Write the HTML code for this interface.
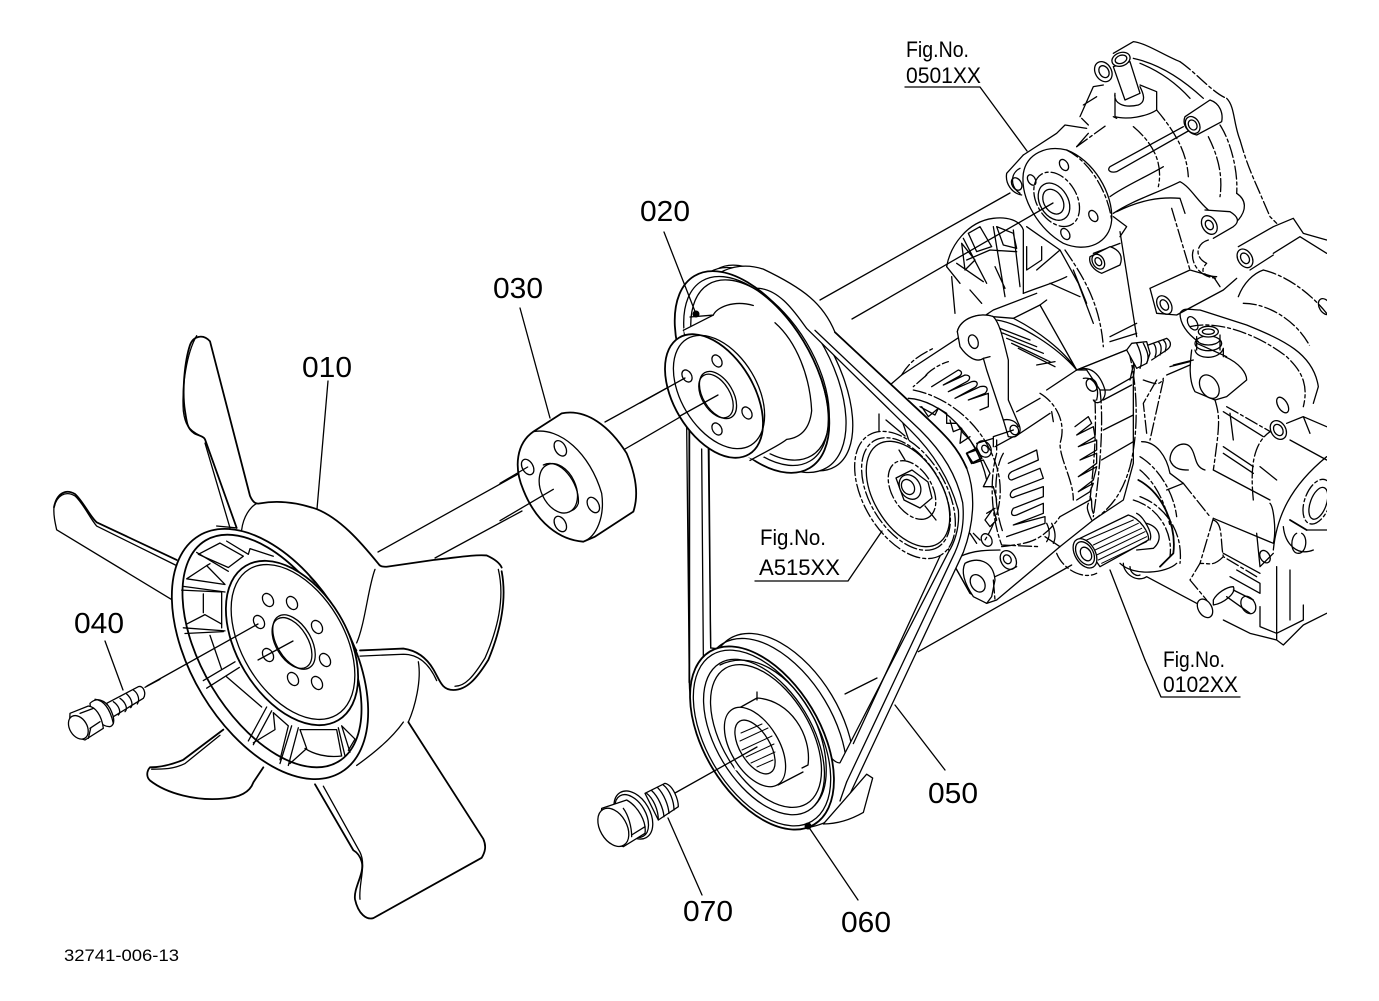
<!DOCTYPE html>
<html><head><meta charset="utf-8"><style>
html,body{margin:0;padding:0;background:#fff}
svg{display:block}
svg *{vector-effect:non-scaling-stroke}
.l path,.l line,.l ellipse,.l polyline,.l polygon{fill:none;stroke:#000;stroke-width:1.3;stroke-linejoin:round;stroke-linecap:round}
.l .w{fill:#fff}
.l .d{stroke-dasharray:13 3 3 3}
.l .t{stroke-width:1.8}
.l .n{stroke-width:1}
text{font-family:"Liberation Sans",sans-serif;fill:#000}
</style></head><body>
<svg width="1379" height="1001" viewBox="0 0 1379 1001" xmlns="http://www.w3.org/2000/svg">
<defs><clipPath id="c"><rect x="0" y="0" width="1327" height="1001"/></clipPath></defs>
<rect width="1379" height="1001" fill="#fff"/>
<g class="l" clip-path="url(#c)">

<!-- ENGINE UPPER -->
<g transform="translate(880,30) scale(.33333)">
<path class="w" d="M600,260 L640,170 L680,165 L700,70 L760,35 C800,40 850,75 900,95 C950,130 1000,190 1040,205 C1065,230 1060,280 1080,330 L1100,400 L1170,560 L1240,570 L1340,630 L1340,960 L780,960 L430,960 L220,850 L200,710 L240,600 L430,500 L430,380 L530,300 L600,300 Z" style="stroke:none"/>
<path d="M700,70 L760,35 C800,40 850,75 900,95"/>
<path class="d" d="M900,95 C950,130 1000,190 1040,205"/>
<path d="M1040,205 C1065,230 1060,280 1080,330"/>
<path class="d" d="M1080,330 C1095,380 1100,400 1140,490 L1170,560 L1190,580"/>
<path d="M760,85 C830,100 900,140 970,205"/>
<path d="M780,100 C830,120 880,150 930,205"/>
<path class="d" d="M985,320 C1010,370 1030,430 1020,500"/>
<path class="d" d="M1020,285 C1050,330 1075,420 1070,490"/>
<path d="M1070,490 C1100,510 1100,540 1075,570"/>
<ellipse class="w" cx="670" cy="125" rx="32" ry="24" transform="rotate(59 670 125)"/>
<ellipse cx="672" cy="125" rx="19" ry="14" transform="rotate(59 672 125)"/>
<path class="w" d="M700,110 L735,210 L780,190 L750,95 Z"/>
<ellipse class="w" cx="723" cy="88" rx="28" ry="20" transform="rotate(-20 723 88)"/>
<ellipse cx="723" cy="88" rx="18" ry="12" transform="rotate(-20 723 88)"/>
<path d="M705,190 C700,220 730,235 775,225 C800,215 790,190 780,170 M780,165 L830,185 L830,240 C800,260 740,270 705,260 L705,195"/>
<path d="M600,260 L640,170 L670,165 M610,225 L650,200 M605,265 L625,285"/>
<path d="M530,310 L555,285 L620,295 M430,375 L530,310"/>
<path class="d" d="M590,350 L680,285 M700,260 L710,265 M830,240 C880,300 920,360 925,440"/>
<path d="M910,290 L690,410 C680,420 690,430 710,425 L930,300"/>
<path class="d" d="M760,290 C820,340 850,400 835,470"/>
<path class="w" d="M915,260 L990,210 C1020,220 1030,250 1025,275 L950,315 C925,310 905,285 915,260 Z"/>
<ellipse class="w" cx="938" cy="285" rx="27" ry="20" transform="rotate(59 938 285)"/>
<ellipse cx="938" cy="285" rx="16" ry="12" transform="rotate(59 938 285)"/>
<path d="M700,550 C760,510 830,490 900,455 C930,470 950,510 985,540 M710,545 C780,510 840,500 900,505 L915,550"/>
<path class="d" d="M875,535 L930,720"/>
<path d="M975,540 L1050,545 C1075,560 1080,575 1060,590 L1000,625"/>
<ellipse class="w" cx="988" cy="585" rx="30" ry="21" transform="rotate(59 988 585)"/>
<ellipse cx="988" cy="585" rx="15" ry="11" transform="rotate(59 988 585)"/>
<path class="d" d="M985,630 C950,640 940,680 980,700 C960,720 965,740 1010,740 M940,660 C930,690 950,740 1010,745"/>
<path d="M810,775 L930,720 L1000,740 L1020,770"/>
<path d="M810,775 L830,850 L890,855 L1030,780 L1070,745"/>
<ellipse cx="853" cy="825" rx="30" ry="20" transform="rotate(59 853 825)"/>
<ellipse cx="853" cy="825" rx="17" ry="11" transform="rotate(59 853 825)"/>
<path d="M1075,650 L1180,590 L1240,565 L1270,610 L1340,630 M1180,670 L1260,620 L1340,670"/>
<ellipse class="w" cx="1095" cy="685" rx="30" ry="21" transform="rotate(59 1095 685)"/>
<ellipse cx="1095" cy="685" rx="17" ry="12" transform="rotate(59 1095 685)"/>
<path d="M1110,720 L1180,675 M1075,800 C1090,760 1120,730 1150,720"/>
<path class="d" d="M1090,820 C1170,820 1260,880 1295,960 M1150,720 C1230,740 1300,800 1340,850"/>
<ellipse cx="1335" cy="830" rx="26" ry="17" transform="rotate(59 1335 830)"/>
<!-- fan-shaped water pump pulley rear -->
<path d="M200,710 C210,650 260,575 340,565 C380,560 420,570 430,600 L430,790"/>
<path d="M215,740 L225,850 M200,710 L240,760 M430,790 C480,770 520,760 560,740"/>
<path d="M250,625 L320,760 M340,590 L375,800 M400,600 L420,770 M260,690 L330,660 L410,665 M230,700 L310,755 M270,780 L305,820 M345,710 L375,775 M265,610 L300,590 L335,650 L290,665 Z M350,590 L400,610 L410,655 L370,645 Z M245,640 L285,690 L255,720 Z"/>
<path d="M440,590 L540,660 L595,760 L640,880 M470,720 L540,660 M485,650 L485,690 L440,720 L440,650 M510,760 L600,800 M580,720 L620,820"/>
<path class="d" d="M555,660 C610,740 660,820 670,950"/>
<path d="M470,790 L340,840 L310,860"/>
<!-- pump flange -->
<path class="w" d="M430,430 C440,370 500,345 560,360 C640,390 700,490 695,570 C690,640 620,670 550,640 C480,600 420,510 430,430 Z"/>
<path class="d" d="M560,360 C620,390 680,470 695,570"/>
<ellipse cx="520" cy="515" rx="40" ry="28" transform="rotate(59 520 515)"/>
<ellipse cx="522" cy="515" rx="60" ry="42" transform="rotate(59 522 515)"/>
<ellipse class="d" cx="530" cy="508" rx="88" ry="60" transform="rotate(59 530 508)"/>
<ellipse cx="552" cy="405" rx="18" ry="12" transform="rotate(59 552 405)"/>
<ellipse cx="640" cy="558" rx="18" ry="12" transform="rotate(59 640 558)"/>
<ellipse cx="556" cy="612" rx="18" ry="12" transform="rotate(59 556 612)"/>
<ellipse cx="455" cy="450" rx="17" ry="11" transform="rotate(59 455 450)"/>
<path d="M430,375 L380,430 C375,460 395,490 425,495 M420,415 C390,430 390,470 420,490"/>
<ellipse cx="410" cy="462" rx="20" ry="14" transform="rotate(59 410 462)"/>
<path d="M590,350 L625,310 M690,500 C730,470 800,440 850,410"/>
<path d="M720,640 L640,670 M700,560 L740,590 L720,620"/>
<path class="w" d="M630,680 L690,650 C720,660 730,680 720,705 L665,730 C640,720 625,700 630,680 Z"/>
<ellipse cx="655" cy="695" rx="24" ry="17" transform="rotate(59 655 695)"/>
<ellipse cx="655" cy="695" rx="13" ry="9" transform="rotate(59 655 695)"/>
<path d="M720,605 L770,920 M690,920 L770,880 M690,935 L770,910"/>
</g>

<!-- ENGINE LOWER + ALTERNATOR -->
<g transform="translate(880,300) scale(.33333)">
<path class="w" d="M800,230 L900,190 L1100,160 L1340,130 L1340,940 L1270,975 L1210,1035 L1190,1020 L1110,1000 L1030,955 L950,910 L810,840 L730,790 L750,600 Z" style="stroke:none"/>
<!-- right block -->
<path d="M900,40 C910,20 930,30 960,30 L1100,75 C1210,120 1300,160 1315,260 L1300,310"/>
<path class="d" d="M930,80 C1010,60 1130,100 1220,170 C1250,200 1290,240 1270,320"/>
<path d="M900,40 C900,70 920,100 955,125 M950,130 L1040,170"/>
<ellipse cx="938" cy="70" rx="22" ry="13" transform="rotate(59 938 70)"/>
<ellipse cx="1208" cy="315" rx="26" ry="14" transform="rotate(59 1208 315)"/>
<path d="M1035,170 C1080,190 1100,220 1100,240 L1040,290 M935,150 C930,190 925,240 945,275 L1005,300 L1040,290"/>
<ellipse class="w" cx="988" cy="260" rx="38" ry="26" transform="rotate(59 988 260)"/>
<ellipse cx="985" cy="130" rx="40" ry="22"/>
<path d="M950,110 L950,150 M1020,105 L1020,150 M950,120 C960,140 1010,140 1020,120"/>
<ellipse class="w" cx="985" cy="95" rx="30" ry="16"/><ellipse cx="985" cy="95" rx="18" ry="8"/>
<path d="M945,150 C950,180 1020,180 1030,145 L1030,170"/>
<path d="M870,200 L930,185 M880,195 L940,180 M860,225 L930,195"/>
<path class="d" d="M790,240 C820,250 840,260 850,235 M850,240 L810,420 M830,240 L790,310 L800,400"/>
<path class="d" d="M1005,300 C1020,350 1020,370 1000,510 M1040,320 L1180,400"/>
<path d="M1030,335 L1150,410 M1030,440 L1120,500 M1030,460 L1120,520 M1050,340 L1060,420 M1140,500 L1190,540"/>
<ellipse class="w" cx="1195" cy="390" rx="30" ry="22" transform="rotate(59 1195 390)"/>
<ellipse cx="1195" cy="390" rx="18" ry="13" transform="rotate(59 1195 390)"/>
<path d="M1220,370 L1270,350 L1340,380 M1270,350 L1290,400"/>
<path d="M1230,420 L1340,480 M1000,510 L1170,600"/>
<path class="d" d="M1120,600 C1110,500 1120,430 1170,395"/>
<path d="M870,480 C870,440 910,420 930,440 C950,460 940,500 975,510 M870,480 C880,510 910,510 925,510"/>
<path d="M785,425 C830,425 860,470 870,520 L910,550 L860,570"/>
<path class="d" d="M780,470 C830,500 880,570 890,650 M780,510 C830,550 860,620 870,680 M910,550 L990,650 M1000,655 L960,790"/>
<path class="t" d="M775,540 C850,580 890,680 880,760 L840,800"/>
<path d="M720,790 C760,830 860,820 890,790 M1000,655 L1180,730 C1190,690 1180,620 1170,610 M1130,700 L1140,800 L1180,760"/>
<path class="d" d="M1000,660 C1030,670 1020,720 1030,770 L1130,830 M1030,770 C1000,800 990,790 960,790 L930,840 L980,900"/>
<path d="M1070,810 L1140,850 L1140,880 L1050,830 M1030,760 L1140,820"/>
<path d="M1000,900 C1010,880 1040,860 1060,860 C1070,880 1030,910 1000,915 Z"/>
<ellipse cx="975" cy="925" rx="30" ry="20" transform="rotate(59 975 925)"/>
<ellipse cx="1105" cy="915" rx="28" ry="20" transform="rotate(59 1105 915)"/>
<ellipse cx="1155" cy="770" rx="20" ry="14" transform="rotate(59 1155 770)"/>
<path d="M1040,890 L1110,940 M1060,870 L1120,900 M1030,960 L1110,1000 L1190,1020 M1140,920 L1140,980 L1190,1000 L1270,960 L1270,915 M1190,800 L1190,1020 L1210,1035 L1270,975 L1340,940 M1230,810 L1230,960"/>
<path d="M1180,750 C1190,650 1230,560 1340,470"/>
<ellipse class="d" cx="1312" cy="605" rx="70" ry="38" transform="rotate(-70 1312 605)"/>
<ellipse cx="1315" cy="610" rx="50" ry="24" transform="rotate(-70 1315 610)"/>
<path class="t" d="M1230,660 L1280,690"/>
<path d="M1210,680 C1215,730 1250,770 1300,750 M1250,700 C1230,710 1230,760 1255,760 C1280,760 1285,710 1265,700 M1280,690 L1340,690"/>
<path d="M730,790 C730,820 770,850 800,830 L950,910 M750,800 C750,820 770,830 780,825"/>
<!-- spline + seal -->
<path class="d" d="M760,600 C830,620 880,690 870,770 M780,590 C860,620 910,700 900,790"/>
<path class="w" d="M600,715 L745,645 C780,655 810,700 805,720 L660,800 Z"/>
<path class="n" d="M620,720 L760,660 M640,735 L775,670 M645,750 L785,685 M650,765 L795,695 M655,780 L800,710 M665,790 L800,725"/>
<path d="M770,640 C790,650 820,700 810,720 M800,670 C840,680 850,720 820,745 L770,750"/>
<ellipse class="w" cx="615" cy="760" rx="48" ry="30" transform="rotate(59 615 760)"/>
<ellipse cx="615" cy="760" rx="38" ry="24" transform="rotate(59 615 760)"/>
<ellipse cx="618" cy="762" rx="22" ry="15" transform="rotate(59 618 762)"/>
<path class="d" d="M530,760 C550,810 610,840 650,820"/>
<line x1="115" y1="1055" x2="575" y2="795"/>
<line x1="690" y1="810" x2="795" y2="1080"/>
<!-- alternator body -->
<path class="w" d="M30,255 L65,225 L240,110 L232,95 C240,55 300,35 340,50 L400,55 L480,15 L590,210 L740,150 L760,230 L760,490 L730,600 L640,660 L540,740 L350,900 L320,910 L270,880 L225,800 L120,520 Z"/>
<path d="M400,55 C470,90 550,150 590,210 M350,60 C420,70 530,140 590,210"/>
<path class="d" d="M65,225 C90,180 130,160 160,145 M135,230 C140,220 170,195 205,185 M140,225 L100,260"/>
<path d="M480,15 L500,0"/>
<!-- upper fins -->
<path d="M360,85 L450,120 M370,100 L470,140 M380,115 L490,160 M395,130 L510,185 M415,145 L525,200 M470,195 L525,185 M360,85 C355,95 365,100 370,100"/>
<path d="M155,260 L235,210 C250,215 245,225 235,230 L190,255 L255,225 C275,225 270,240 260,245 L205,275 L275,245 C295,240 295,255 285,262 L225,295 L300,260 C325,255 325,270 315,280 L265,300 L325,280 L325,320 L300,330"/>
<!-- bracket -->
<path class="w" d="M232,95 C240,55 300,35 340,50 C360,70 370,120 385,180 L385,300 L415,370 C430,400 410,415 385,410 L370,360 L320,210 L310,175 C290,190 260,170 240,140 Z"/>
<ellipse cx="280" cy="125" rx="21" ry="14" transform="rotate(70 280 125)"/>
<path d="M310,175 L330,170 M370,360 C390,355 410,365 415,380"/>
<ellipse cx="403" cy="390" rx="15" ry="12" transform="rotate(59 403 390)"/>
<path d="M410,335 L480,295 M500,270 L590,210 M400,390 L340,410 L340,440 M405,410 L510,340"/>
<path class="d" d="M480,280 C530,310 560,370 540,430 C540,480 580,540 580,600"/>
<path d="M515,335 L520,365"/>
<path class="w" d="M590,210 L740,150 C750,160 770,190 760,230 L690,270 L660,270 L620,210 Z"/>
<path d="M590,210 C630,195 660,220 675,270 C680,300 650,320 640,300 M610,235 C640,230 660,260 650,300"/>
<ellipse cx="635" cy="255" rx="20" ry="15" transform="rotate(59 635 255)"/>
<path class="d" d="M660,270 C670,350 665,480 640,650 M645,300 C650,420 640,500 630,600"/>
<path d="M670,300 L755,255 M670,390 L760,345 M665,480 L760,425 M540,650 L630,600 M640,640 C630,620 640,600 630,590 M635,660 C620,630 620,620 625,610"/>
<path d="M585,380 L625,350 L635,370 L590,405 L640,380 L645,410 L595,440 L650,420 L650,450 L600,480 L650,460 L650,490 L595,530 L650,500 L640,540 L595,575 L640,550 L630,575 L590,600"/>
<path class="d" d="M745,150 C770,240 780,380 750,500 C730,570 700,620 640,660"/>
<!-- stud -->
<path class="w" d="M740,150 L755,130 L800,125 L810,160 L800,190 L770,205 Z"/>
<path d="M770,130 C780,150 790,180 780,205 M790,130 C800,150 810,170 800,190"/>
<path d="M805,135 L860,115 C875,125 875,140 860,150 L815,180 M820,130 C830,140 830,160 825,170 M835,125 C845,135 845,150 840,165 M850,120 C860,130 860,140 855,155"/>
<path d="M760,195 L750,240"/>
<!-- lower fins -->
<path d="M385,490 L470,450 L475,480 L395,515 C380,525 385,540 395,540 L480,505 L490,535 L400,570 C385,580 390,600 405,590 L490,560 L490,590 L400,625 C390,640 395,650 410,645 L490,610 L490,640 L400,675 L495,650 L495,670 L380,710"/>
<path class="d" d="M370,460 C340,510 340,620 370,700"/>
<path class="d" d="M350,460 C330,530 330,640 365,735 L480,740"/>
<path d="M500,670 C510,690 510,710 500,725 M515,670 C525,690 530,710 520,730 M495,710 L540,740"/>
<path class="d" d="M365,740 C430,730 480,735 540,650"/>
<!-- rotor fins front -->
<path d="M120,320 L165,345 L175,325 L200,340 L200,370 L230,370 L250,400 L270,420 L290,450 L260,460 L280,490 L310,480 L330,520 L310,560 L340,560 L350,600"/>
<path d="M125,320 L145,350 L175,325 M210,360 L220,395 L245,385 L240,430 L270,410"/>
<path class="d" d="M100,270 C200,290 310,370 350,500 C380,600 340,680 315,720"/>
<path d="M85,295 C180,300 290,400 320,540"/>
<path class="t" d="M260,460 L275,490 L305,475 L290,445 Z"/>
<ellipse cx="312" cy="447" rx="26" ry="20" transform="rotate(59 312 447)"/>
<ellipse cx="315" cy="447" rx="12" ry="9" transform="rotate(59 315 447)"/>
<path d="M345,440 L400,410 M290,430 L340,415 M350,420 L350,450"/>
<path d="M315,660 L340,625 L350,660 L330,680 Z M320,640 L345,625"/>
<ellipse cx="320" cy="720" rx="20" ry="15" transform="rotate(59 320 720)"/>
<path d="M270,700 L290,730 M280,700 L300,720"/>
<path d="M240,770 C280,750 330,750 360,750"/>
<ellipse class="w" cx="385" cy="780" rx="30" ry="22" transform="rotate(59 385 780)"/>
<ellipse cx="382" cy="778" rx="14" ry="11" transform="rotate(59 382 778)"/>
<path class="w" d="M255,790 C290,770 340,780 345,840 L335,890 L320,910 L280,890 C260,860 240,820 255,790 Z"/>
<ellipse cx="293" cy="850" rx="28" ry="20" transform="rotate(59 293 850)"/>
<path d="M225,800 L270,880 M345,830 L410,800"/>
<path class="d" d="M340,840 L345,900"/>
</g>

<!-- IDLER -->
<g>
<path d="M879,414 L879,432 M886,420 L905,436"/>
<ellipse class="d w" cx="905" cy="495" rx="70" ry="41" transform="rotate(59 905 495)"/>
<ellipse class="d" cx="906" cy="494" rx="62" ry="36" transform="rotate(59 906 494)"/>
<ellipse cx="908" cy="494" rx="58" ry="34" transform="rotate(59 908 494)"/>
<ellipse class="d" cx="912" cy="490" rx="32" ry="20" transform="rotate(59 912 490)"/>
<polygon class="w" points="896,478 912,470 928,482 932,498 920,508 904,500"/>
<ellipse class="w" cx="910" cy="487" rx="13" ry="10" transform="rotate(59 910 487)"/>
<ellipse cx="908" cy="487" rx="8" ry="6" transform="rotate(59 908 487)"/>
<path d="M899,450 L905,460 M936,520 L925,506"/>
</g>

<!-- AXIS LINES -->
<line x1="820" y1="300" x2="1010" y2="193"/>
<line x1="852" y1="319" x2="1053" y2="203"/>
<line x1="845" y1="694" x2="877" y2="678"/>
<line x1="378" y1="552" x2="520" y2="473"/>
<line x1="435" y1="558" x2="522" y2="511"/>
<line x1="605" y1="422" x2="685" y2="378"/>
<line x1="625" y1="449" x2="718" y2="395"/>

<!-- CRANK REAR -->
<ellipse class="w" cx="782" cy="725" rx="101" ry="58" transform="rotate(59 782 725)"/>
<ellipse cx="775" cy="730" rx="101" ry="58" transform="rotate(59 775 730)"/>

<!-- PULLEY REAR -->
<ellipse class="w" cx="776" cy="368" rx="115" ry="57" transform="rotate(59 776 368)"/>
<ellipse class="w" cx="768" cy="370" rx="114" ry="60" transform="rotate(59 768 370)"/>

<!-- BELT -->
<g transform="translate(590,250) scale(.33333,.38265)">
<path class="w" fill-rule="evenodd" d="M290,460 L298,1130 C300,1300 450,1480 650,1510 C720,1500 760,1470 770,1440 L1120,790 C1150,720 1160,640 1130,570 C1100,510 1060,480 1000,430 L735,215 C700,140 640,100 520,50 C450,30 390,50 340,90 C290,130 280,200 280,300 Z M362,1040 L357,520 C350,300 400,130 500,100 C570,100 620,170 650,205 L960,470 C1030,530 1080,600 1105,680 C1110,730 1090,770 1075,790 L750,1340 C700,1350 560,1050 362,1040 Z"/>
<path class="t" d="M298,460 L298,1130 M1000,430 L735,215 M1000,430 C1060,480 1100,510 1130,570"/>
<path d="M335,520 L340,1060 M355,520 L362,1040"/>
<path d="M675,210 L990,470 C1060,530 1100,590 1118,660 C1125,720 1110,760 1095,790 L770,1390"/>
<path d="M790,1290 L1050,800"/>
<path class="w" d="M760,1440 L830,1370 L848,1380 L820,1470 C780,1490 740,1500 700,1500 Z"/>
<path d="M770,1390 L750,1440"/>
</g>

<!-- CRANK FRONT -->
<ellipse class="w t" cx="762" cy="738" rx="101" ry="58" transform="rotate(59 762 738)"/>
<ellipse cx="762" cy="738" rx="97" ry="55" transform="rotate(59 762 738)"/>
<ellipse cx="764" cy="737" rx="86" ry="48" transform="rotate(59 764 737)"/>
<ellipse cx="766" cy="736" rx="79" ry="44" transform="rotate(59 766 736)"/>
<path d="M720,665 C750,650 790,670 815,720 C830,755 830,790 815,805"/>
<path class="w" d="M757,696 C785,700 800,725 805,744 L802,770 L780,783 L735,770 L725,730 Z" style="stroke:none"/>
<path d="M757,692 L757,700 M732,712 L757,698 C790,700 812,735 808,765 L802,768 M803,772 L778,785"/>
<ellipse class="w" cx="755" cy="747" rx="44" ry="24" transform="rotate(59 755 747)"/>
<ellipse class="w" cx="755" cy="747" rx="30" ry="15" transform="rotate(59 755 747)"/>
<path class="n" d="M741,733 L762,724 M740,741 L768,728 M742,750 L772,736 M746,757 L774,744 M751,763 L775,752 M757,767 L773,760"/>
<line x1="675" y1="793" x2="757" y2="747"/>

<!-- PULLEY FRONT -->
<ellipse class="w t" cx="752" cy="372" rx="112" ry="60" transform="rotate(59 752 372)"/>
<ellipse cx="756" cy="371" rx="105" ry="56" transform="rotate(59 756 371)"/>
<ellipse cx="760" cy="370" rx="100" ry="54" transform="rotate(59 760 370)"/>
<g transform="translate(590,250) scale(.33333,.38265)">
<path d="M300,175 L370,170 C380,150 430,130 490,145"/>
<path class="w" d="M280,205 C350,180 440,180 520,190 L640,300 C660,380 660,430 630,490 L500,550 L380,510 Z" style="stroke:none"/>
<path d="M370,170 L280,210 M555,190 C620,240 660,330 665,420 C660,460 640,490 590,495 M590,495 C570,510 520,530 480,550"/>
</g>
<ellipse class="w t" cx="714" cy="396" rx="68" ry="40" transform="rotate(59 714 396)"/>
<ellipse cx="719" cy="392" rx="62" ry="38" transform="rotate(59 719 392)"/>
<ellipse cx="718" cy="395" rx="26" ry="15" transform="rotate(59 718 395)"/>
<ellipse cx="716" cy="396" rx="24" ry="14" transform="rotate(59 716 396)"/>
<ellipse cx="687" cy="376" rx="6.5" ry="4.5" transform="rotate(59 687 376)"/>
<ellipse cx="717" cy="361" rx="6.5" ry="4.5" transform="rotate(59 717 361)"/>
<ellipse cx="747" cy="413" rx="6.5" ry="4.5" transform="rotate(59 747 413)"/>
<ellipse cx="717" cy="429" rx="6.5" ry="4.5" transform="rotate(59 717 429)"/>
<line x1="685" y1="378" x2="640" y2="403"/>
<line x1="718" y1="395" x2="680" y2="416"/>

<!-- SPACER 030 -->
<g transform="translate(500,390) scale(.33333)">
<path class="w t" d="M100,125 L185,70 C260,55 330,110 380,190 C410,260 415,320 400,365 L285,440 L250,455 C180,450 110,400 70,300 C40,230 50,160 100,125 Z"/>
<path d="M100,125 C180,110 270,190 305,310 C315,380 290,440 250,455"/>
<ellipse class="w" cx="175" cy="295" rx="78" ry="52" transform="rotate(65 175 295)"/>
<path d="M130,225 C180,200 240,280 235,340 C230,355 220,360 215,362"/>
<ellipse cx="181" cy="175" rx="25" ry="16" transform="rotate(60 181 175)"/>
<ellipse cx="83" cy="231" rx="25" ry="16" transform="rotate(60 83 231)"/>
<ellipse cx="280" cy="345" rx="25" ry="16" transform="rotate(60 280 345)"/>
<ellipse cx="181" cy="402" rx="25" ry="16" transform="rotate(60 181 402)"/>
<line x1="0" y1="280" x2="83" y2="231"/>
<line x1="0" y1="392" x2="160" y2="298"/>
</g>

<!-- FAN -->
<g transform="translate(40,330) scale(.33333,.37700)">
<path class="w" d="M590,525 L495,290 L470,280 L440,250 L430,130 C440,60 450,15 480,15 C505,15 510,30 515,50 L630,440 L650,460 C700,455 780,455 830,475 C900,500 960,560 1015,620 L1025,628 L1180,610 L1330,598 C1370,600 1385,640 1390,650 C1405,720 1385,790 1340,880 C1310,925 1280,955 1240,955 C1205,955 1200,930 1180,900 C1160,870 1130,850 1090,845 L960,850 L1135,880 L1135,960 L1105,1040 L1330,1350 L1335,1395 L1000,1560 L960,1550 L945,1510 L970,1440 L940,1380 L825,1205 L670,1160 L620,1225 L470,1245 L350,1215 L320,1180 L330,1160 L430,1140 L550,1060 L395,715 L50,530 L42,470 C50,440 90,425 120,450 L170,515 L410,620 Z" style="stroke:none"/>
<path class="t" d="M590,525 L495,290 C490,280 470,280 460,272 C440,260 440,240 435,215 C425,160 435,80 450,40 C460,15 490,10 510,30 L630,440 C640,460 650,462 660,460 C720,450 780,460 830,475 C900,500 960,560 1015,620 C1020,628 1030,628 1040,628 L1180,610 C1240,605 1300,595 1340,598 C1370,610 1380,620 1385,630"/>
<path d="M470,15 C440,60 425,150 430,215 C435,250 445,265 480,280 M570,525 L495,300"/>
<path class="t" d="M1385,640 C1400,710 1385,790 1345,875 C1310,925 1280,955 1240,955 C1205,955 1200,930 1180,900 C1160,870 1130,850 1090,845 L960,850"/>
<path d="M1375,635 C1395,710 1375,790 1335,870 C1300,920 1275,945 1245,945"/>
<path d="M960,865 L1090,860 C1130,860 1165,880 1190,930"/>
<path d="M1135,880 C1145,930 1125,1000 1105,1040"/>
<path class="t" d="M1105,1040 L1330,1350 C1340,1370 1335,1385 1325,1400 L1000,1560 C980,1565 955,1550 945,1510 C940,1480 975,1440 965,1410 C960,1395 950,1385 940,1380 L825,1205"/>
<path d="M850,1210 L960,1385 C980,1420 955,1470 960,1510"/>
<path d="M1090,1040 C1050,1090 990,1130 950,1155"/>
<path class="t" d="M550,1060 L430,1140 C390,1155 355,1160 330,1160 C320,1170 318,1185 330,1195 C380,1230 470,1250 550,1243 C600,1240 630,1225 640,1200 L670,1160"/>
<path d="M540,1075 L435,1150 C400,1165 370,1165 335,1165"/>
<path d="M410,625 L170,520 C150,500 130,460 105,440 C75,425 50,440 42,470 C40,490 45,510 50,530 L395,715"/>
<path class="t" d="M410,610 L170,510 C150,495 130,455 105,435 C75,420 50,435 42,470"/>
<path d="M605,530 C610,495 630,470 650,460 M1005,635 C985,680 975,780 950,830"/>
<path d="M530,520 L590,525"/>
</g>
<!-- fan ring -->
<ellipse class="w t" cx="270" cy="654" rx="138" ry="79" transform="rotate(59 270 654)"/>
<ellipse class="w t" cx="272" cy="651" rx="129" ry="70" transform="rotate(59 272 651)"/>
<g transform="translate(40,330) scale(.33333,.37700)">
<path d="M475,595 L540,565 L610,600 L565,630 L475,595 Z M560,560 L625,595 L630,580 L700,600"/>
<path d="M440,660 L500,625 L555,675 Z M510,620 L500,625 M470,590 L565,640"/>
<path d="M430,680 L555,695 M430,790 L555,798 M435,805 L550,800 M440,780 L495,755 L545,780 M490,700 L490,750"/>
<path d="M510,810 L545,900 M425,690 L545,695 L545,790 M490,930 L585,880 M500,950 L598,895 M560,920 L665,1000"/>
<path d="M625,1090 L680,1000 M640,1100 L695,1010 M640,1095 L705,1060 L700,1015 L745,1050 L720,1140"/>
<path d="M720,1150 L755,1050 M745,1155 L775,1055 M750,1150 L800,1110 L780,1060 L890,1060 L905,1130 C860,1135 820,1125 795,1110"/>
<path d="M895,1055 L915,1130 M905,1050 L930,1120 M905,1050 L945,1085 L925,1115"/>
<path d="M825,670 L810,655 M860,715 L950,850"/>
</g>
<ellipse class="w t" cx="292" cy="643" rx="90" ry="55" transform="rotate(59 292 643)"/>
<ellipse cx="293" cy="642" rx="85" ry="51" transform="rotate(59 293 642)"/>
<ellipse cx="294" cy="642" rx="30" ry="17" transform="rotate(59 294 642)"/>
<ellipse cx="292" cy="643" rx="28" ry="16" transform="rotate(59 292 643)"/>
<ellipse cx="268" cy="600" rx="7" ry="5" transform="rotate(59 268 600)"/>
<ellipse cx="292" cy="603" rx="7" ry="5" transform="rotate(59 292 603)"/>
<ellipse cx="317" cy="627" rx="7" ry="5" transform="rotate(59 317 627)"/>
<ellipse cx="325" cy="660" rx="7" ry="5" transform="rotate(59 325 660)"/>
<ellipse cx="317" cy="683" rx="7" ry="5" transform="rotate(59 317 683)"/>
<ellipse cx="293" cy="679" rx="7" ry="5" transform="rotate(59 293 679)"/>
<ellipse cx="268" cy="655" rx="7" ry="5" transform="rotate(59 268 655)"/>
<ellipse cx="259" cy="622" rx="7" ry="5" transform="rotate(59 259 622)"/>
<line x1="147" y1="686" x2="258" y2="624"/>
<line x1="258" y1="660" x2="293" y2="641"/>

<!-- BOLT 040 -->
<g transform="translate(60,670) scale(.33333)">
<path class="w" d="M140,100 L235,50 C250,45 260,70 250,85 L160,140 Z"/>
<path d="M160,95 C175,105 185,125 175,135 M180,85 C195,95 205,115 195,125 M200,72 C215,85 220,105 212,113 M220,60 C235,70 240,90 232,102"/>
<path class="w" d="M90,100 C110,80 135,90 150,115 C165,145 165,165 150,170 C120,170 90,130 90,100 Z"/>
<path d="M105,88 C130,90 150,115 160,160"/>
<path class="w" d="M30,130 L85,108 C105,110 125,135 130,175 L75,210 C50,205 25,170 30,130 Z"/>
<ellipse class="w" cx="55" cy="172" rx="38" ry="26" transform="rotate(59 55 172)"/>
<path d="M90,175 L120,155 M60,130 L100,115 M85,205 L92,175"/>
<line x1="255" y1="52" x2="300" y2="28"/>
</g>

<!-- BOLT 070 -->
<g transform="translate(590,770) scale(.33333)">
<path class="w" d="M165,70 L225,40 C250,45 265,90 265,110 L205,150 Z"/>
<path d="M170,70 C190,85 205,120 205,150 M185,62 C205,80 220,115 222,140 M202,52 C222,72 235,105 237,130 M220,45 C240,60 252,95 252,120"/>
<ellipse class="w" cx="130" cy="135" rx="78" ry="50" transform="rotate(60 130 135)"/>
<ellipse cx="125" cy="138" rx="70" ry="42" transform="rotate(60 125 138)"/>
<path class="w" d="M35,115 L110,90 C145,110 170,155 165,190 L100,230 C60,220 30,170 35,115 Z"/>
<ellipse class="w" cx="70" cy="172" rx="62" ry="40" transform="rotate(60 70 172)"/>
<path d="M100,115 C115,135 125,170 125,200 M125,195 L165,170"/>
</g>

<!-- LEADERS -->
<g class="n">
<line x1="664" y1="232" x2="696" y2="314"/>
<line x1="520" y1="308" x2="550" y2="418"/>
<line x1="328" y1="381" x2="317" y2="509"/>
<line x1="105" y1="641" x2="123" y2="690"/>
<line x1="895" y1="705" x2="945" y2="770"/>
<line x1="808" y1="826" x2="858" y2="900"/>
<line x1="668" y1="818" x2="702" y2="895"/>
<path d="M755,581 L848,581 L882,531"/>
<path d="M905,87 L980,87 L1027,151"/>
<path d="M1240,697 L1161,697 L1145,660"/>
</g>
</g>
<circle cx="696" cy="314" r="3.5" fill="#000"/>
<circle cx="808" cy="826" r="3.5" fill="#000"/>

<!-- LABELS -->
<g font-size="29">
<text x="640" y="221" textLength="50" lengthAdjust="spacingAndGlyphs">020</text>
<text x="493" y="298" textLength="50" lengthAdjust="spacingAndGlyphs">030</text>
<text x="302" y="377" textLength="50" lengthAdjust="spacingAndGlyphs">010</text>
<text x="74" y="633" textLength="50" lengthAdjust="spacingAndGlyphs">040</text>
<text x="928" y="803" textLength="50" lengthAdjust="spacingAndGlyphs">050</text>
<text x="841" y="932" textLength="50" lengthAdjust="spacingAndGlyphs">060</text>
<text x="683" y="921" textLength="50" lengthAdjust="spacingAndGlyphs">070</text>
</g>
<g font-size="22">
<text x="906" y="57" textLength="63" lengthAdjust="spacingAndGlyphs">Fig.No.</text>
<text x="906" y="83" textLength="75" lengthAdjust="spacingAndGlyphs">0501XX</text>
<text x="760" y="545" textLength="66" lengthAdjust="spacingAndGlyphs">Fig.No.</text>
<text x="759" y="575" textLength="81" lengthAdjust="spacingAndGlyphs">A515XX</text>
<text x="1163" y="667" textLength="62" lengthAdjust="spacingAndGlyphs">Fig.No.</text>
<text x="1163" y="692" textLength="75" lengthAdjust="spacingAndGlyphs">0102XX</text>
</g>
<text x="64" y="961" font-size="17" textLength="115" lengthAdjust="spacingAndGlyphs">32741-006-13</text>
</svg>
</body></html>
